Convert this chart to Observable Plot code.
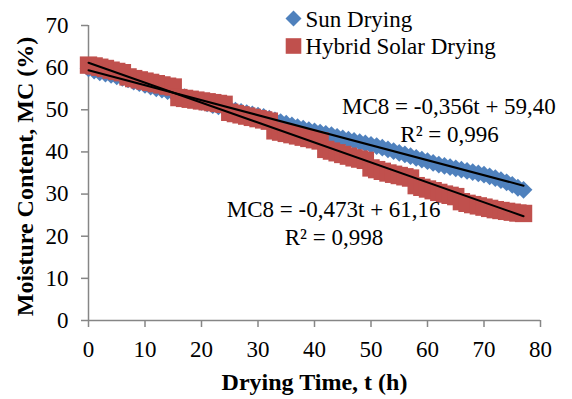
<!DOCTYPE html>
<html><head><meta charset="utf-8">
<script src="https://cdn.jsdelivr.net/npm/d3@7"></script>
<script src="https://cdn.jsdelivr.net/npm/@observablehq/plot@0.6"></script>
<style>
body{margin:0;background:#fff;}
#wrap{width:572px;height:399px;}
</style></head><body><div id="wrap"></div>
<script>
const hours = [0,1,2,3,4,5,6,7,8,9,10,11,12,13,14,15,16,17,18,19,20,21,22,23,24,25,26,27,28,29,30,31,32,33,34,35,36,37,38,39,40,41,42,43,44,45,46,47,48,49,50,51,52,53,54,55,56,57,58,59,60,61,62,63,64,65,66,67,68,69,70,71,72,73,74,75,76,77];
const sunMC = [59.8,59.3,58.9,58.6,58.3,57.9,57.6,57.2,56.7,56.3,55.9,55.5,55.1,54.8,54.4,54.0,53.4,53.0,52.6,52.2,51.9,51.5,51.1,50.8,50.5,50.2,49.8,49.5,49.2,48.9,48.6,48.3,47.9,47.5,47.1,46.7,46.3,45.9,45.5,45.2,44.9,44.6,44.3,44.0,43.6,43.2,42.9,42.6,42.3,42.0,41.7,41.4,41.0,40.6,40.2,39.8,39.4,39.0,38.6,38.2,37.8,37.4,37.0,36.7,36.4,36.1,35.8,35.5,35.2,34.9,34.6,34.2,33.8,33.3,32.8,32.2,31.5,31.0];
const hybridMC = [60.6,60.4,60.1,59.8,59.4,59.1,58.8,57.8,57.4,57.1,56.8,56.5,56.2,55.9,55.6,55.4,52.9,52.7,52.5,52.3,52.1,51.9,51.7,51.5,51.3,49.4,49.1,48.8,48.5,48.2,47.9,47.6,47.3,45.0,44.7,44.4,44.1,43.8,43.5,43.2,42.9,42.6,40.6,40.2,39.8,39.4,39.0,38.6,38.3,38.0,36.2,35.8,35.4,35.0,34.7,34.4,34.1,33.8,32.0,31.6,31.2,30.8,30.4,30.0,29.7,29.4,28.2,27.8,27.5,27.2,26.9,26.6,26.3,26.1,25.9,25.7,25.5,25.4];
const seriesNames = ["Sun Drying", "Hybrid Solar Drying"];
const seriesColors = ["#4F81BD", "#C0504D"];
const trendSlope = [-0.356, -0.473];
const trendIntercept = [59.40, 61.16];
const eqLabels = ["MC8 = -0,356t + 59,40", "MC8 = -0,473t + 61,16"];
const r2Labels = ["R² = 0,996", "R² = 0,998"];
const xTicks = [0,10,20,30,40,50,60,70,80];
const yTicks = [0,10,20,30,40,50,60,70];
const xTitle = "Drying Time, t (h)";
const yTitle = "Moisture Content, MC (%)";

const sunRows = hours.map((t, i) => ({t, v: sunMC[i]}));
const hybRows = hours.map((t, i) => ({t, v: hybridMC[i]}));
const tFirst = hours[0], tLast = hours[hours.length - 1];
const trendRows = trendSlope.flatMap((m, i) => [
  {s: i, t: tFirst, v: trendIntercept[i] + m * tFirst},
  {s: i, t: tLast, v: trendIntercept[i] + m * tLast}
]);

const gray = "#868686";
const serif = "'Liberation Serif','Times New Roman',serif";
const chart = Plot.plot({
  width: 572, height: 399,
  marginLeft: 88, marginRight: 32, marginTop: 25, marginBottom: 79,
  style: {fontFamily: serif, fontSize: "23px", background: "#fff", color: "#000", overflow: "visible"},
  x: {domain: [0, 80]},
  y: {domain: [0, 70]},
  marks: [
    Plot.ruleX([0], {stroke: gray, strokeWidth: 1.5}),
    Plot.ruleY([0], {stroke: gray, strokeWidth: 1.5}),
    Plot.axisX({ticks: xTicks, tickSize: 7, tickPadding: 13, stroke: gray, strokeWidth: 1.5, fill: "#000", label: null, fontFamily: serif}),
    Plot.axisY({ticks: yTicks, tickSize: 7, tickPadding: 13, stroke: gray, strokeWidth: 1.5, fill: "#000", label: null, fontFamily: serif}),
    Plot.dot(sunRows, {x: "t", y: "v", symbol: "diamond2", r: 8, fill: seriesColors[0], stroke: null}),
    Plot.dot(hybRows, {x: "t", y: "v", symbol: "square", r: 9.8, fill: seriesColors[1], stroke: null}),
    Plot.line(trendRows, {x: "t", y: "v", z: "s", stroke: "#000", strokeWidth: 2}),
    Plot.text([eqLabels[0]], {x: 63.8, y: 50.8, text: d => d, fontFamily: serif}),
    Plot.text([r2Labels[0]], {x: 63.9, y: 44.1, text: d => d, fontFamily: serif}),
    Plot.text([eqLabels[1]], {x: 43.4, y: 26.3, text: d => d, fontFamily: serif}),
    Plot.text([r2Labels[1]], {x: 43.45, y: 19.6, text: d => d, fontFamily: serif}),
    Plot.text([xTitle], {frameAnchor: "bottom", textAnchor: "middle", lineAnchor: "middle", dy: 62.3, text: d => d, fontWeight: "bold", fontSize: 24, fontFamily: serif}),
    Plot.text([yTitle], {frameAnchor: "left", textAnchor: "middle", lineAnchor: "middle", dx: -63, dy: 3.5, rotate: -90, text: d => d, fontWeight: "bold", fontSize: 24, fontFamily: serif}),
    // legend
    Plot.dot([seriesNames[0]], {frameAnchor: "top-left", dx: 205, dy: -7, symbol: "diamond2", r: 7.2, fill: seriesColors[0]}),
    Plot.dot([seriesNames[1]], {frameAnchor: "top-left", dx: 205, dy: 20.5, symbol: "square", r: 8.8, fill: seriesColors[1]}),
    Plot.text([seriesNames[0]], {frameAnchor: "top-left", dx: 217, dy: -5.7, textAnchor: "start", lineAnchor: "middle", text: d => d, fontFamily: serif}),
    Plot.text([seriesNames[1]], {frameAnchor: "top-left", dx: 217, dy: 20.9, textAnchor: "start", lineAnchor: "middle", text: d => d, fontFamily: serif})
  ]
});
document.getElementById("wrap").appendChild(chart);
</script></body></html>
